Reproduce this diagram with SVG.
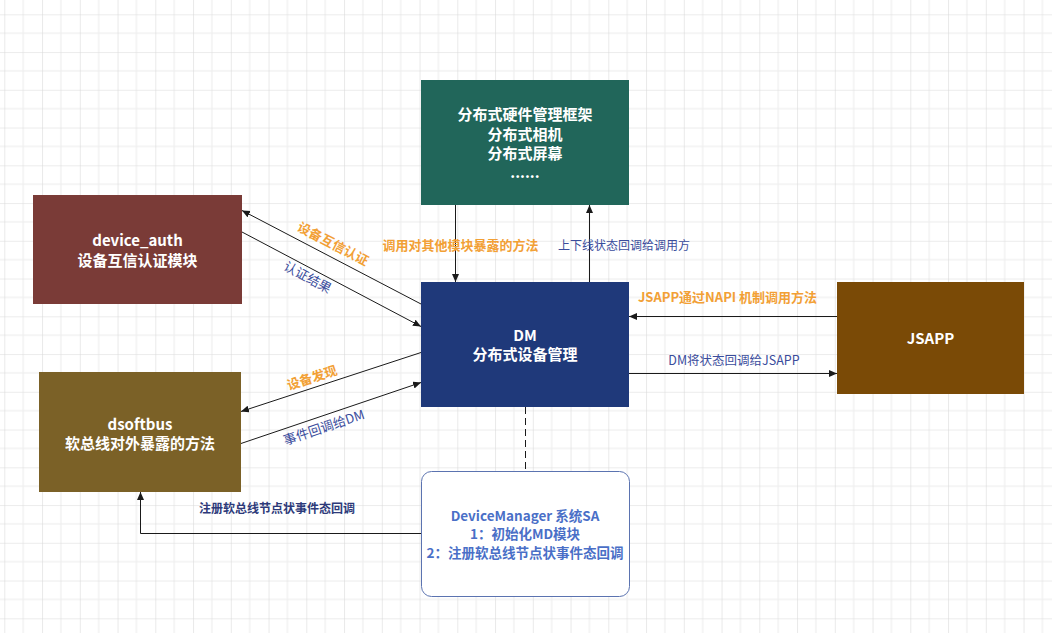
<svg xmlns="http://www.w3.org/2000/svg" width="1052" height="633" viewBox="0 0 1052 633">
<style>
.box-t{font-family:"Noto Sans CJK SC","Noto Sans",sans-serif;font-weight:bold;font-size:15px;fill:#ffffff;text-anchor:middle}
.conn{stroke:#1a1a1a;stroke-width:1;fill:none}
.lbl-o{font-family:"Noto Sans CJK SC","Noto Sans",sans-serif;font-weight:bold;font-size:13px;fill:#F2A035;text-anchor:middle}
.lbl-b{font-family:"Noto Sans CJK SC","Noto Sans",sans-serif;font-size:12.5px;fill:#3a4c9c;text-anchor:middle}
.lbl-bd{font-family:"Noto Sans CJK SC","Noto Sans",sans-serif;font-weight:bold;font-size:12px;fill:#2d3a7a;text-anchor:middle}
.sa-t{font-family:"Noto Sans CJK SC","Noto Sans",sans-serif;font-weight:bold;font-size:13.5px;fill:#4a6fc7;text-anchor:middle}
</style>
<defs>
<pattern id="grid" patternUnits="userSpaceOnUse" x="4.3" y="14.3" width="37.75" height="37.75">
<line x1="18.875" y1="0" x2="18.875" y2="37.75" stroke="#ececec" stroke-width="1"/>
<line x1="0" y1="18.875" x2="37.75" y2="18.875" stroke="#ececec" stroke-width="1"/>
<line x1="0" y1="0" x2="0" y2="37.75" stroke="#dadada" stroke-width="1.2"/>
<line x1="0" y1="0" x2="37.75" y2="0" stroke="#dadada" stroke-width="1.2"/>
</pattern>
<marker id="arr" markerUnits="userSpaceOnUse" markerWidth="10" markerHeight="8" refX="8" refY="3.5" orient="auto">
<path d="M0,0 L8,3.5 L0,7 Z" fill="#1a1a1a"/>
</marker>
</defs>
<rect width="1052" height="633" fill="#ffffff"/>
<rect width="1052" height="633" fill="url(#grid)"/>

<g id="connectors">
<line class="conn" x1="421" y1="304" x2="242" y2="210.5" marker-end="url(#arr)"/>
<line class="conn" x1="242" y1="232" x2="421" y2="326.5" marker-end="url(#arr)"/>
<line class="conn" x1="455.5" y1="205" x2="455.5" y2="282" marker-end="url(#arr)"/>
<line class="conn" x1="589.5" y1="282" x2="589.5" y2="205" marker-end="url(#arr)"/>
<line class="conn" x1="421" y1="352.5" x2="241" y2="411.5" marker-end="url(#arr)"/>
<line class="conn" x1="241" y1="443.5" x2="421" y2="382.5" marker-end="url(#arr)"/>
<line class="conn" x1="837" y1="316.5" x2="629" y2="316.5" marker-end="url(#arr)"/>
<line class="conn" x1="629" y1="373.5" x2="837" y2="373.5" marker-end="url(#arr)"/>
<line class="conn" x1="525.5" y1="407" x2="525.5" y2="471" stroke-dasharray="7 4"/>
<polyline class="conn" points="421,533.5 140.5,533.5 140.5,492" marker-end="url(#arr)"/>
<text class="lbl-o" transform="translate(333,244) rotate(27.5)" dy="4.5">设备互信认证</text>
<text class="lbl-b" transform="translate(307.5,277.5) rotate(28)" dy="4.5" style="font-size:13px">认证结果</text>
<text class="lbl-o" x="460.5" y="249.5">调用对其他模块暴露的方法</text>
<text class="lbl-b" x="624" y="249.5" style="font-size:12px">上下线状态回调给调用方</text>
<text class="lbl-o" transform="translate(312,378) rotate(-18)" dy="4.5">设备发现</text>
<text class="lbl-b" transform="translate(324,427.5) rotate(-18.5)" dy="4.5" style="font-size:13px">事件回调给DM</text>
<text class="lbl-o" x="727.5" y="301.5">JSAPP通过NAPI 机制调用方法</text>
<text class="lbl-b" x="734" y="364.5">DM将状态回调给JSAPP</text>
<text class="lbl-bd" x="277" y="512.5">注册软总线节点状事件态回调</text>
</g>

<g id="dhfwk">
<rect x="421" y="80" width="208" height="125" fill="#21665A"/>
<text class="box-t" x="525" y="120">分布式硬件管理框架</text>
<text class="box-t" x="525" y="140">分布式相机</text>
<text class="box-t" x="525" y="159">分布式屏幕</text>
<text class="box-t" x="525" y="178">......</text>
</g>

<g id="device_auth">
<rect x="33" y="195" width="209" height="109" fill="#7A3B37"/>
<text class="box-t" x="137.5" y="246">device_auth</text>
<text class="box-t" x="137.5" y="266">设备互信认证模块</text>
</g>

<g id="dsoftbus">
<rect x="39" y="372" width="202" height="120" fill="#7B6127"/>
<text class="box-t" x="140" y="429.5">dsoftbus</text>
<text class="box-t" x="140" y="449">软总线对外暴露的方法</text>
</g>

<g id="dm">
<rect x="421" y="282" width="208" height="125" fill="#1F397A"/>
<text class="box-t" x="525" y="341">DM</text>
<text class="box-t" x="525" y="360">分布式设备管理</text>
</g>

<g id="jsapp">
<rect x="837" y="282" width="187" height="112" fill="#7A4A06"/>
<text class="box-t" x="930.5" y="343.5">JSAPP</text>
</g>

<g id="devicemanager_sa">
<rect x="421.5" y="471.5" width="208" height="125" rx="10" ry="10" fill="#ffffff" stroke="#5b73b0" stroke-width="1"/>
<text class="sa-t" x="525" y="520.5">DeviceManager 系统SA</text>
<text class="sa-t" x="525" y="539">1：初始化MD模块</text>
<text class="sa-t" x="525" y="558">2：注册软总线节点状事件态回调</text>
</g>
</svg>
